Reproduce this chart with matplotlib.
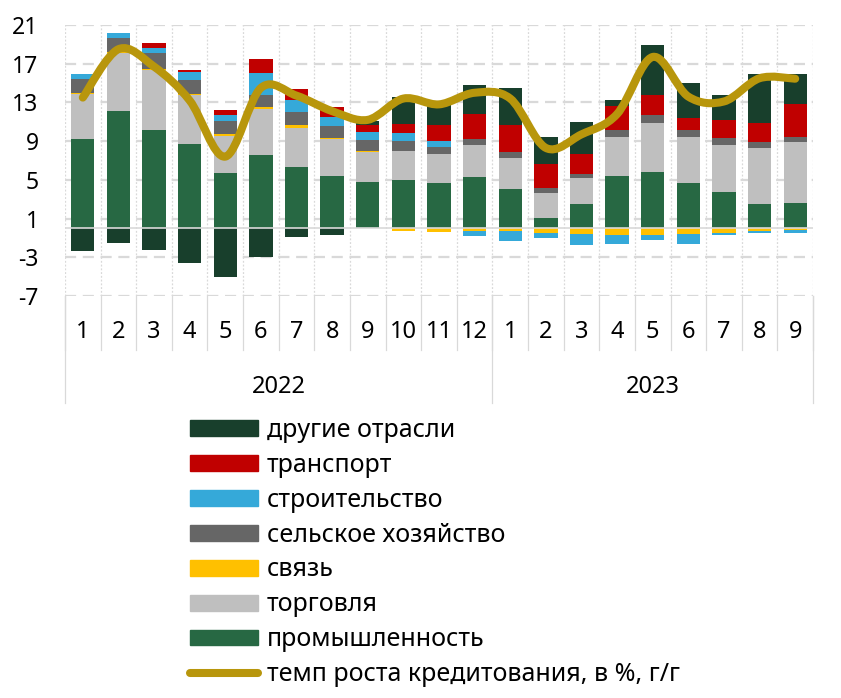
import numpy as np
import matplotlib
matplotlib.use("Agg")
import matplotlib.pyplot as plt
from matplotlib.path import Path
from matplotlib.patches import PathPatch, Patch
from matplotlib.lines import Line2D

plt.rcParams['font.family'] = ['Noto Sans', 'DejaVu Sans']

# months of 2022 (1..12) and 2023 (1..9)
months = [str(m) for m in range(1, 13)] + [str(m) for m in range(1, 10)]
years = ['2022', '2023']
year_len = [12, 9]

prom = [9.2, 12.15, 10.1, 8.75, 5.7, 7.55, 6.3, 5.35, 4.8, 5.0, 4.7, 5.25,
        4.05, 1.1, 2.5, 5.35, 5.8, 4.7, 3.7, 2.55, 2.6]
torg = [4.7, 6.0, 6.3, 5.0, 3.85, 4.8, 4.05, 3.85, 3.05, 3.0, 2.95, 3.3,
        3.2, 2.55, 2.65, 4.1, 5.1, 4.75, 4.95, 5.7, 6.3]
svyaz = [0.1, 0.05, 0.1, 0.15, 0.2, 0.2, 0.3, 0.17, 0.17, -0.28, -0.35, -0.28,
         -0.28, -0.45, -0.6, -0.7, -0.73, -0.6, -0.45, -0.24, -0.14]
selsk = [1.4, 1.5, 1.65, 1.45, 1.35, 1.2, 1.4, 1.2, 1.1, 1.05, 0.75, 0.7,
         0.65, 0.5, 0.5, 0.7, 0.75, 0.75, 0.7, 0.65, 0.55]
stroi = [0.5, 0.5, 0.5, 0.8, 0.6, 2.25, 1.2, 0.95, 0.85, 0.75, 0.65, -0.5,
         -1.0, -0.6, -1.15, -0.95, -0.5, -1.0, -0.25, -0.2, -0.3]
transp = [0.0, 0.0, 0.5, 0.17, 0.55, 1.45, 1.1, 1.0, 0.65, 1.0, 1.6, 2.55,
          2.8, 2.45, 2.0, 2.45, 2.15, 1.2, 1.85, 2.0, 3.35]
drugie = [-2.3, -1.55, -2.25, -3.6, -5.05, -3.0, -0.95, -0.7, 0.45, 2.8, 2.25, 3.0,
          3.75, 2.8, 3.35, 0.7, 5.1, 3.65, 2.6, 5.0, 3.1]
credit = [13.5, 18.5, 16.7, 13.2, 7.4, 14.5, 13.7, 12.1, 11.2, 13.4, 12.8, 14.0,
          13.4, 8.3, 9.7, 11.8, 17.7, 13.6, 13.1, 15.5, 15.45]

series = [
    ("промышленность", prom, "#276843"),
    ("торговля", torg, "#bfbfbf"),
    ("связь", svyaz, "#ffc000"),
    ("сельское хозяйство", selsk, "#666666"),
    ("строительство", stroi, "#35a9d9"),
    ("транспорт", transp, "#c00000"),
    ("другие отрасли", drugie, "#183f2c"),
]
line_label = "темп роста кредитования, в %, г/г"
line_color = "#b8960c"

fig = plt.figure(figsize=(8.41, 6.98), dpi=100)
ax = fig.add_axes([65 / 841, 1 - 296 / 698, 748 / 841, 271 / 698])

n = len(months)
x = np.arange(n)
pos_base = np.zeros(n)
neg_base = np.zeros(n)
for name, vals, col in series:
    v = np.array(vals, dtype=float)
    bottom = np.where(v >= 0, pos_base, neg_base)
    ax.bar(x, v, bottom=bottom, width=0.655, color=col, zorder=3, linewidth=0)
    pos_base = pos_base + np.where(v >= 0, v, 0)
    neg_base = neg_base + np.where(v < 0, v, 0)

# smoothed line (Catmull-Rom style bezier through the points)
pts = np.column_stack([x, credit]).astype(float)
ext = np.vstack([pts[0], pts, pts[-1]])
verts = [tuple(pts[0])]
codes = [Path.MOVETO]
for i in range(n - 1):
    p0, p1, p2, p3 = ext[i], ext[i + 1], ext[i + 2], ext[i + 3]
    c1 = p1 + (p2 - p0) / 6
    c2 = p2 - (p3 - p1) / 6
    verts += [tuple(c1), tuple(c2), tuple(p2)]
    codes += [Path.CURVE4] * 3
ax.add_patch(PathPatch(Path(verts, codes), facecolor='none', edgecolor=line_color,
                       lw=5.8, capstyle='round', joinstyle='round', zorder=5))

ax.set_xlim(-0.5, n - 0.5)
ax.set_ylim(-7, 21)
yt = [21, 17, 13, 9, 5, 1, -3, -7]
ax.set_yticks(yt)
ax.set_yticklabels([str(t) for t in yt], fontsize=16.5)
for t in yt:
    ax.axhline(t, color='#d9d9d9', lw=1.6, dashes=(5, 3), zorder=1)
ax.axhline(0, color='#d9d9d9', lw=1.2, zorder=4)
for b in np.arange(-0.5, n, 1.0):
    ax.axvline(b, color='#d9d9d9', lw=0.9, ls=(0, (1.5, 1.5)), zorder=1)

ax.set_xticks([])
ax.tick_params(axis='y', length=0, pad=19)
for s in ax.spines.values():
    s.set_visible(False)

# multi-level category axis
tr = ax.get_xaxis_transform()
for i, m in enumerate(months):
    ax.text(i, -0.133, m, transform=tr, ha='center', va='center', fontsize=17)
for b in np.arange(-0.5, n, 1.0):
    ax.plot([b, b], [0, -0.199], transform=tr, color='#d9d9d9', lw=0.9, clip_on=False)
start = 0
for yname, ln in zip(years, year_len):
    ax.plot([start - 0.5, start - 0.5], [0, -0.395], transform=tr, color='#d9d9d9',
            lw=0.9, clip_on=False)
    ax.text(start + (ln - 1) / 2, -0.336, yname, transform=tr, ha='center',
            va='center', fontsize=17)
    start += ln
ax.plot([n - 0.5, n - 0.5], [0, -0.395], transform=tr, color='#d9d9d9', lw=0.9,
        clip_on=False)

# legend
handles = [Patch(color=col, label=name) for name, vals, col in reversed(series)]
handles.append(Line2D([0], [0], color=line_color, lw=5.8, solid_capstyle='round',
                      label=line_label))
fig.legend(handles=handles, loc='upper left', bbox_to_anchor=(190 / 841, 1 - 418 / 698),
           frameon=False, fontsize=18, handlelength=2.72, handleheight=0.6,
           handletextpad=0.36, labelspacing=0.395, borderpad=0, borderaxespad=0)

fig.savefig("out.png", dpi=100)
